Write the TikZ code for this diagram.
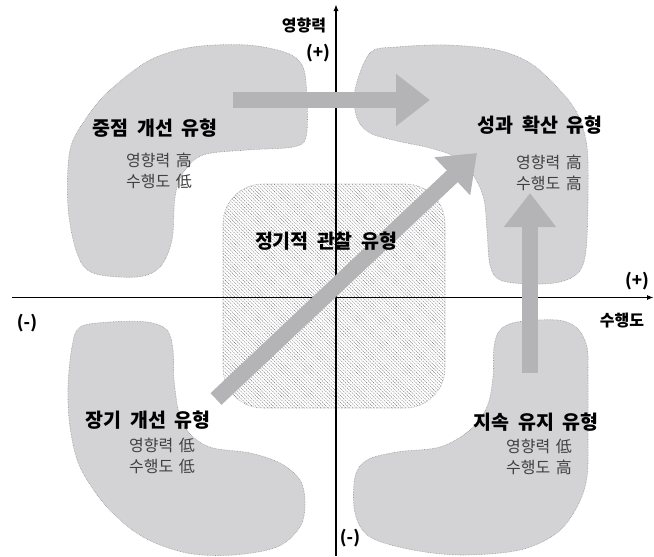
\documentclass[tikz,border=0pt]{standalone}
\usepackage{fontspec}
\setmainfont{Noto Sans CJK KR}
\usetikzlibrary{arrows.meta,patterns.meta}
\definecolor{blobgray}{RGB}{211,211,213}
\definecolor{blobline}{RGB}{150,150,150}
\definecolor{arrowgray}{RGB}{180,180,182}
\definecolor{hatchgray}{RGB}{95,95,95}
\newcommand{\wideTitle}{\bfseries\fontsize{19.5}{21}\selectfont\spaceskip=0.42em\relax}
\newcommand{\wideSub}{\fontsize{16}{21}\selectfont\spaceskip=0.35em\relax}
\begin{document}
\begin{tikzpicture}[x=1pt,y=-1pt,
  blob/.style={fill=blobgray, draw=blobline, densely dotted, line width=0.6pt},
  bigarrow/.style={draw=arrowgray, line width=16pt, -{Triangle[length=34pt,width=50pt]}},
  axis/.style={line width=1.4pt, -{Latex[length=7pt,width=5pt]}},
  title/.style={font=\wideTitle, inner sep=0pt},
  sub/.style={font=\wideSub, text=black!75, align=center, inner sep=0pt},
  axlabel/.style={font=\bfseries\fontsize{16}{18}\selectfont, inner sep=0pt},
  sign/.style={font=\bfseries\fontsize{17}{19}\selectfont, inner sep=0pt}]
\useasboundingbox (0,0) rectangle (654,557);
% blobs
\draw[blob] plot[smooth cycle, tension=0.55] coordinates {
 (303,67) (307,100) (306,137) (293,147) (247,150) (203,155) (183,173) (175,197)
 (172,240) (160,267) (137,277) (93,273) (77,253) (68,207) (70,150) (87,117)
 (110,90) (150,60) (193,47) (247,45) (287,53)};
\draw[blob] plot[smooth cycle, tension=0.55] coordinates {
 (370,53) (397,47) (447,45) (497,50) (530,63) (557,87) (577,113) (587,147)
 (588,200) (586,250) (579,272) (560,282) (530,284) (500,280) (490,265) (487,230)
 (484,200) (475,178) (457,158) (430,148) (397,141) (370,133) (357,118) (355,90)};
\draw[blob] plot[smooth cycle, tension=0.55] coordinates {
 (80,327) (110,322) (147,322) (167,330) (173,350) (174,380) (180,417) (193,437)
 (213,448) (250,453) (280,463) (300,480) (305,503) (300,527) (277,547) (233,555)
 (187,553) (143,537) (107,507) (80,467) (70,427) (68,387) (72,347)};
\draw[blob] plot[smooth cycle, tension=0.55] coordinates {
 (500,330) (517,322) (557,320) (577,328) (587,347) (588,377) (588,430) (587,477)
 (577,507) (557,533) (520,550) (463,555) (413,550) (370,537) (355,513) (355,477)
 (367,460) (397,452) (440,447) (470,430) (487,407) (493,377) (494,347)};
% central rounded square
\draw[densely dotted, draw=blobline, line width=0.6pt, fill=white,
  pattern={Lines[angle=-45,distance=2.5pt,line width=0.45pt]}, pattern color=hatchgray,
  rounded corners=40pt] (223,184) rectangle (445,408);
% axes
\coordinate (xl) at (12,297.5);
\coordinate (xr) at (654,297.5);
\coordinate (yb) at (336,556);
\coordinate (yt) at (336,4);
\draw[axis] (xl) -- (xr);
\draw[axis] (yb) -- (yt);
% axis labels
\node[axlabel] (ylab) at (304,25) {영향력};
\node[sign] (yplus) at (318,53) {(+)};
\node[sign] (xplus) at (637,281) {(+)};
\node[axlabel] (xlab) at (622,321) {수행도};
\node[sign] (xminus) at (27,323) {(-)};
\node[sign] (yminus) at (350,538) {(-)};
% arrows
\coordinate (a1s) at (233,100); \coordinate (a1e) at (430,100);
\coordinate (a2s) at (216,399); \coordinate (a2e) at (477,153);
\coordinate (a3s) at (530,373); \coordinate (a3e) at (530,193);
\draw[bigarrow] (a1s) -- (a1e);
\draw[bigarrow] (a2s) -- (a2e);
\draw[bigarrow] (a3s) -- (a3e);
% titles
\node[title] (t1) at (155,128) {중점 개선 유형};
\node[sub] (s1) at (159,171) {영향력 高\\수행도 低};
\node[title] (t2) at (540,125) {성과 확산 유형};
\node[sub] (s2) at (549,173) {영향력 高\\수행도 高};
\node[title] (t3) at (326,241) {정기적 관찰 유형};
\node[title] (t4) at (148,420) {장기 개선 유형};
\node[sub] (s4) at (162,456) {영향력 低\\수행도 低};
\node[title] (t5) at (536,422) {지속 유지 유형};
\node[sub] (s5) at (539,457) {영향력 低\\수행도 高};
\end{tikzpicture}
\end{document}
